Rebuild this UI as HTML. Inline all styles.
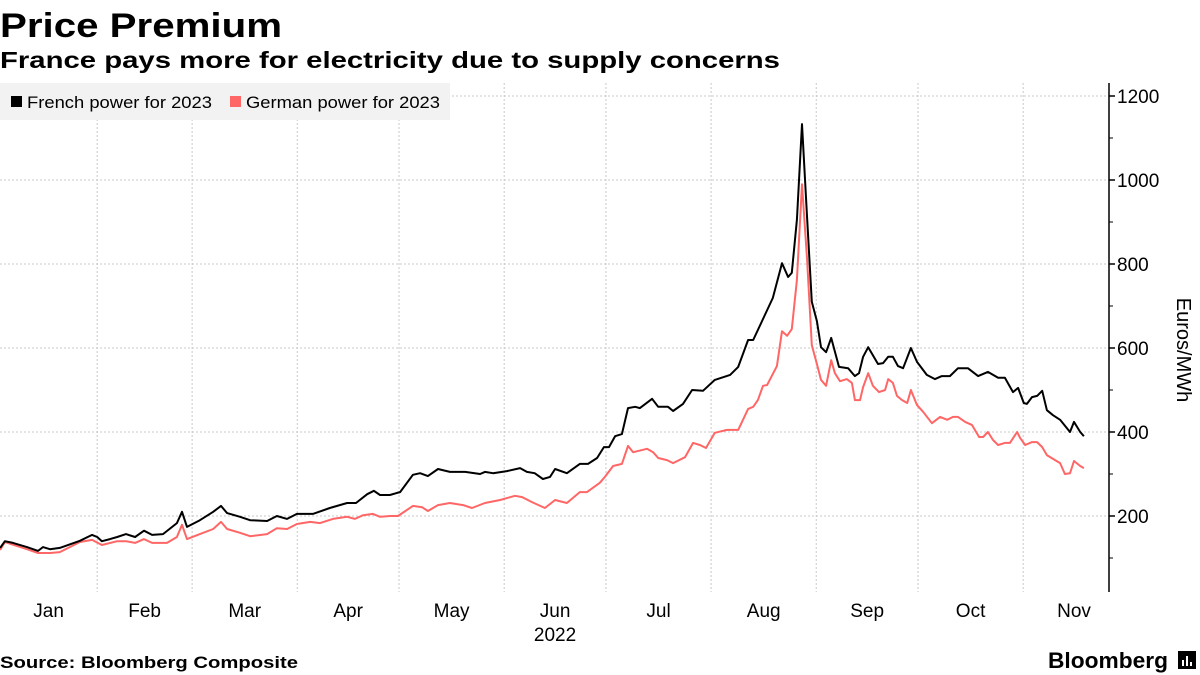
<!DOCTYPE html>
<html><head><meta charset="utf-8"><style>
html,body{margin:0;padding:0;background:#fff;}
svg{display:block;font-family:"Liberation Sans",sans-serif;}
</style></head><body>
<svg id="chart" width="1200" height="675" viewBox="0 0 1200 675">
<text x="0" y="37" font-size="34" font-weight="bold" fill="#000" textLength="282" lengthAdjust="spacingAndGlyphs">Price Premium</text>
<text x="0" y="68" font-size="23" font-weight="bold" fill="#000" textLength="780" lengthAdjust="spacingAndGlyphs">France pays more for electricity due to supply concerns</text>
<g id="grid"></g>
<g id="axes"></g>
<g id="series"></g>
<g>
<rect x="0" y="83" width="450" height="37" fill="#f2f2f2"/>
<g>
<rect x="11" y="96" width="11" height="11" fill="#000"/>
<text x="27" y="108" font-size="17" fill="#000" textLength="185" lengthAdjust="spacingAndGlyphs">French power for 2023</text></g>
<g>
<rect x="230" y="96" width="11" height="11" fill="#f66"/>
<text x="246" y="108" font-size="17" fill="#000" textLength="194" lengthAdjust="spacingAndGlyphs">German power for 2023</text></g>
</g>
<text transform="translate(1177,350) rotate(90)" text-anchor="middle" font-size="20" fill="#000">Euros/MWh</text>
<text x="0" y="668" font-size="17" font-weight="bold" fill="#000" textLength="298" lengthAdjust="spacingAndGlyphs">Source: Bloomberg Composite</text>
<text x="1048" y="668" font-size="22" font-weight="bold" fill="#000" textLength="120" lengthAdjust="spacingAndGlyphs">Bloomberg</text>
<g><rect x="1178" y="651" width="18" height="18" fill="#000"/><rect x="1182" y="660" width="2" height="6" fill="#fff"/><rect x="1186" y="656" width="2" height="10" fill="#fff"/><rect x="1190" y="662" width="2" height="4" fill="#fff"/></g>
</svg>
<script>
const monthLabels=["Jan","Feb","Mar","Apr","May","Jun","Jul","Aug","Sep","Oct","Nov"];
const monthStarts=[0,31,59,90,120,151,181,212,243,273,304];
const yTicks=[200,400,600,800,1000,1200];
const yMinor=[100,300,500,700,900,1100];
const frDays=[2.4,3.8,6.2,10.3,13.6,15,17.1,20,25.9,29.5,31,32.4,34.8,36.9,39.5,42.2,44.8,47.2,50.4,54.5,56,57.5,61.3,65.2,67.5,69.3,73.1,76.1,81.1,84,87,89.9,94.6,99.6,104.7,107.3,110.6,112.6,114.4,117.3,119.4,120.3,124.1,126.2,128.5,131.5,135,139.5,143.9,145.3,147.7,151.8,155.7,157.7,160,162.4,164.5,166,169.5,173.3,175.7,178.4,180.4,181.9,183.7,185.7,187.5,189.6,191,194.6,196.4,199.3,200.8,203.7,206.4,209.6,213.1,217.6,220,222.9,224.4,227.3,230.2,232.9,234.7,235.8,237.3,238.8,240.3,241.7,243.2,244.4,245.9,247.4,249.7,252.4,254.4,255.6,256.8,258.3,261.2,262.7,264.2,265.6,267.1,268.6,270.9,272.7,275.6,278,280,282.4,284.8,287.7,290.7,293.6,296.6,298.6,301,302.5,304.2,305.1,306.6,308.1,309.6,311,312.8,314.9,317.8,319,320.8,321.9];
const frValues=[124,140,136,126,117,126,121,124,141,155,150,140,145,150,157,150,165,155,157,183,210,174,190,210,224,207,198,190,188,200,193,205,205,219,231,231,252,260,250,250,255,257,298,302,295,312,305,305,300,305,302,307,314,305,302,288,293,312,302,324,324,338,364,364,390,395,457,460,457,479,460,460,450,467,500,498,524,536,555,619,619,669,719,802,769,779,905,1133,910,710,664,602,590,624,555,552,533,540,579,602,562,564,579,579,557,552,600,567,536,526,533,533,552,552,533,543,529,529,495,505,469,467,483,486,498,452,440,429,400,424,400,390];
const deDays=[2.4,3.8,10.3,13.6,17.1,20,25.9,29.5,32.4,36.9,39.5,42.2,44.8,47.2,51.6,54.5,56,57.5,61.3,65.2,67.5,69.3,73.1,76.1,81.1,84,87,89.9,93.8,96.7,100.5,104.7,107,109.4,112.3,114.4,117.3,119.7,124.1,126.8,128.5,131.5,135,138.9,141.5,145.3,149.8,154.2,156.3,159.2,163,166,169.5,173.3,175.4,179.2,180.7,183.1,185.7,187.5,189,193.1,194.9,196.4,199,200.8,204.3,206.7,208.7,210.5,213.1,216.7,220,222.9,224.4,225.8,227.3,228.5,231.4,232.9,234.4,235.8,237.3,238.8,240.3,241.7,243.2,244.4,245.9,247.4,248.5,250,252,253.5,254.4,255.9,256.8,258.3,259.7,261.5,263.3,264.2,265.6,266.8,268.3,269.8,270.9,272.7,274.5,277.1,279.5,281.6,283.3,284.8,286.9,288.9,291,292.2,293.6,295.1,296.6,298.6,300.1,302.2,303.1,304.6,306.6,308.1,309.6,311,312.8,314.9,316.3,317.8,319,320.8,321.9];
const deValues=[119,138,121,112,112,114,138,143,131,140,140,136,145,136,136,150,179,145,157,169,186,169,160,152,157,171,169,181,186,183,193,198,193,202,205,198,200,200,224,221,212,226,231,226,219,231,238,248,245,233,219,238,231,257,257,279,293,319,324,367,352,360,352,338,333,326,340,374,369,362,398,405,405,455,460,476,510,512,557,640,629,645,762,990,810,607,562,524,510,571,540,521,526,517,476,476,507,540,510,495,500,526,517,486,476,469,500,464,448,421,436,429,436,436,424,417,388,388,400,381,369,374,374,400,386,369,376,376,364,345,336,326,300,302,331,319,314];

const NS="http://www.w3.org/2000/svg";
const X0=-8,KX=3.392,PLOT_R=1109,PLOT_T=83,PLOT_B=592;
function xScale(d){return X0+d*KX;}
function yScale(v){return 600-0.42*v;}
function mk(tag,attrs,parent){const e=document.createElementNS(NS,tag);for(const k in attrs)e.setAttribute(k,attrs[k]);parent.appendChild(e);return e;}
const grid=document.getElementById('grid'),axes=document.getElementById('axes'),series=document.getElementById('series');
yTicks.forEach(v=>{
  const l=mk('line',{x1:0,x2:PLOT_R,y1:yScale(v),y2:yScale(v),stroke:'#c8c8c8','stroke-width':1,'stroke-dasharray':'2,2'},grid);
  
  
  const t=mk('line',{x1:PLOT_R,x2:PLOT_R+6,y1:yScale(v),y2:yScale(v),stroke:'#000','stroke-width':1.5},axes);
  
  
  const tx=mk('text',{x:PLOT_R+8,y:yScale(v)+7,'font-size':19,fill:'#000'},axes);
  tx.textContent=v;
  
  
});
yMinor.forEach(v=>{
  const t=mk('line',{x1:PLOT_R,x2:PLOT_R+4,y1:yScale(v),y2:yScale(v),stroke:'#000','stroke-width':1},axes);
  
  
});
monthStarts.forEach((d,i)=>{
  if(i>0){
    const l=mk('line',{x1:xScale(d),x2:xScale(d),y1:PLOT_T,y2:PLOT_B,stroke:'#c8c8c8','stroke-width':1,'stroke-dasharray':'2,2'},grid);
    
    
  }
  const next=i<monthStarts.length-1?monthStarts[i+1]:334;
  const t=mk('text',{x:xScale((d+next)/2)+(i==0?4:0),y:617,'font-size':19,'text-anchor':'middle',fill:'#000'},axes);
  t.textContent=monthLabels[i];
  
  
});
const yr=mk('text',{x:xScale((151+181)/2),y:641,'font-size':19,'text-anchor':'middle',fill:'#000'},axes);
yr.textContent='2022';


const ax=mk('line',{x1:PLOT_R,x2:PLOT_R,y1:PLOT_T,y2:PLOT_B,stroke:'#000','stroke-width':1.5},axes);


function path(days,vals){return days.map((d,i)=>(i?'L':'M')+xScale(d).toFixed(1)+','+yScale(vals[i]).toFixed(1)).join(' ');}
const de=mk('path',{d:path(deDays,deValues),fill:'none',stroke:'#f66','stroke-width':2,'stroke-linejoin':'round'},series);


const fr=mk('path',{d:path(frDays,frValues),fill:'none',stroke:'#000','stroke-width':2,'stroke-linejoin':'round'},series);


</script>
</body></html>
